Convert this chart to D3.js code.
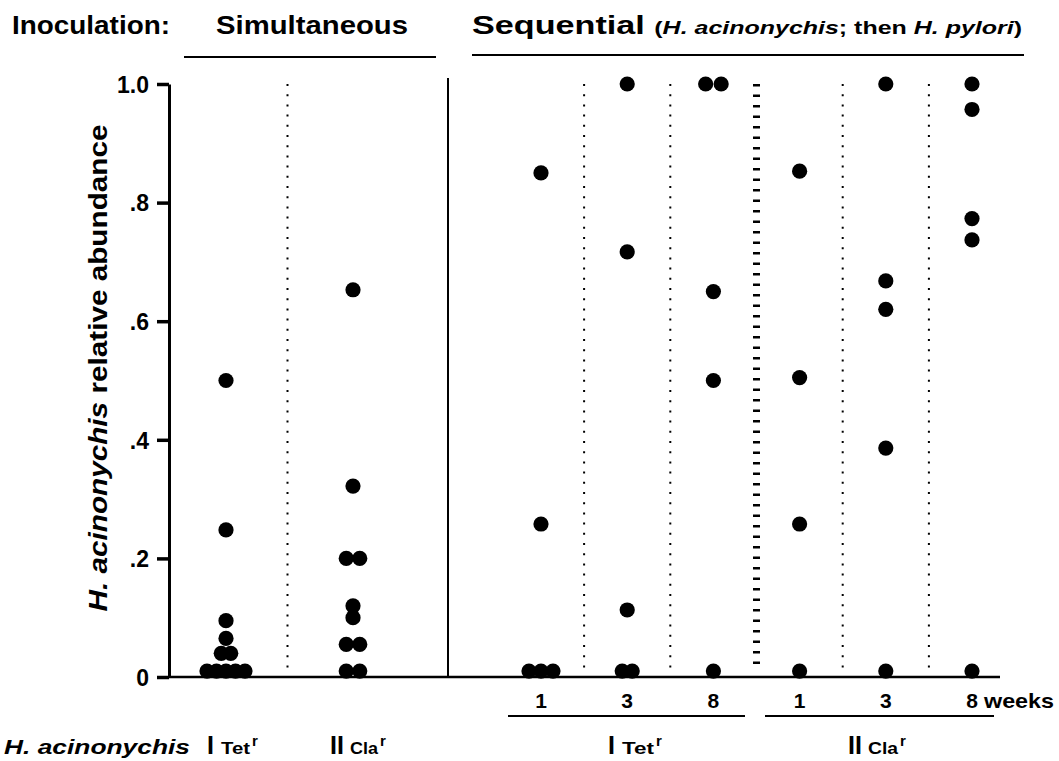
<!DOCTYPE html>
<html>
<head>
<meta charset="utf-8">
<script src="https://cdn.jsdelivr.net/npm/d3@7"></script>
<style>
  body { margin: 0; background: #fff; }
  svg text { font-family: "Liberation Sans", Arial, sans-serif; font-weight: bold; fill: #000; }
</style>
</head>
<body>
<div id="chart"></div>
<script>
// values (relative abundance of H. acinonychis)
var simGroups = ["I", "II"];
var simI  = [0.5, 0.248, 0.095, 0.065, 0.04, 0.04, 0.01, 0.01, 0.01, 0.01, 0.01];
var simII = [0.653, 0.322, 0.2, 0.2, 0.12, 0.1, 0.055, 0.055, 0.01, 0.01];

var seqGroups  = ["Tet-1", "Tet-3", "Tet-8", "Cla-1", "Cla-3", "Cla-8"];
var weekLabels = ["1", "3", "8", "1", "3", "8"];
var tet1 = [0.85, 0.258, 0.01, 0.01, 0.01];
var tet3 = [1.0, 0.717, 0.113, 0.01, 0.01];
var tet8 = [1.0, 1.0, 0.65, 0.5, 0.01];
var cla1 = [0.853, 0.505, 0.258, 0.01];
var cla3 = [1.0, 0.668, 0.62, 0.386, 0.01];
var cla8 = [1.0, 0.957, 0.773, 0.737, 0.01];

var yTicks = [0, 0.2, 0.4, 0.6, 0.8, 1.0];
var yTickLabels = ["0", ".2", ".4", ".6", ".8", "1.0"];

var width = 1059, height = 761;

var svg = d3.select("#chart").append("svg")
    .attr("width", width)
    .attr("height", height);

var y = d3.scaleLinear().domain([0, 1]).range([677, 84]);
var xSim = d3.scalePoint().domain(simGroups).range([226, 353]);
var xSeq = d3.scalePoint().domain(seqGroups).range([541, 972]);

// stretch a text to the width seen in the scan
function fit(sel, len) {
  sel.attr("textLength", len).attr("lengthAdjust", "spacingAndGlyphs");
  return sel;
}

// y axis
var yAxis = svg.append("g")
    .attr("transform", "translate(169,0)")
    .call(d3.axisLeft(y).tickValues(yTicks)
      .tickFormat(function(d, i){ return yTickLabels[i]; })
      .tickSize(12).tickSizeOuter(0).tickPadding(8));
yAxis.select(".domain").attr("stroke-width", 3);
yAxis.selectAll(".tick line").attr("stroke-width", 3.5);
yAxis.selectAll(".tick text").style("font-size", "23px").attr("dy", "0.36em");

// baseline
svg.append("line")
    .attr("x1", 169).attr("x2", 1000)
    .attr("y1", y(0)).attr("y2", y(0))
    .attr("stroke", "#000").attr("stroke-width", 2.5);

// separators
var simMid = (xSim("I") + xSim("II")) / 2 - 2;
svg.append("line")
    .attr("x1", simMid).attr("x2", simMid)
    .attr("y1", y(1)).attr("y2", y(0) - 4)
    .attr("stroke", "#000").attr("stroke-width", 2)
    .attr("stroke-dasharray", "2,8.2");

svg.append("line")
    .attr("x1", 448).attr("x2", 448)
    .attr("y1", 78).attr("y2", y(0))
    .attr("stroke", "#000").attr("stroke-width", 2);

for (var i = 0; i < seqGroups.length - 1; i++) {
  var mx = (xSeq(seqGroups[i]) + xSeq(seqGroups[i+1])) / 2;
  var heavy = (i == 2);
  svg.append("line")
    .attr("x1", mx).attr("x2", mx)
    .attr("y1", y(1)).attr("y2", y(0) - 8)
    .attr("stroke", "#000")
    .attr("stroke-width", heavy ? 7 : 2)
    .attr("stroke-dasharray", heavy ? "2.5,8" : "2,8.2");
}

// dots: equal values sit side by side
function drawDots(values, cx, spacing) {
  var counts = {};
  values.forEach(function(v){ counts[v] = (counts[v] || 0) + 1; });
  var seen = {};
  var pts = values.map(function(v){
    seen[v] = (seen[v] || 0);
    var k = seen[v]++;
    return { v: v, off: (k - (counts[v] - 1) / 2) * spacing };
  });
  svg.append("g").selectAll("circle")
    .data(pts)
    .join("circle")
      .attr("cx", function(d){ return cx + d.off; })
      .attr("cy", function(d){ return y(d.v); })
      .attr("r", 7.6)
      .attr("fill", "#000");
}
drawDots(simI, xSim("I"), 9.5);
drawDots(simII, xSim("II"), 13.5);
var seqSpacing = [12, 10, 15.5, 12, 12, 12];
[tet1, tet3, tet8, cla1, cla3, cla8].forEach(function(vals, i){
  drawDots(vals, xSeq(seqGroups[i]), seqSpacing[i]);
});

// week labels
svg.append("g").selectAll("text")
  .data(seqGroups)
  .join("text")
    .attr("x", function(d){ return xSeq(d); })
    .attr("y", 708)
    .attr("text-anchor", "middle")
    .style("font-size", "21px")
    .text(function(d, i){ return weekLabels[i]; });
fit(svg.append("text")
    .attr("x", xSeq("Cla-8") + 12).attr("y", 708)
    .style("font-size", "21px")
    .text("weeks"), 70);

// group underlines
svg.append("line").attr("x1", 508).attr("x2", 745).attr("y1", 716).attr("y2", 716)
    .attr("stroke", "#000").attr("stroke-width", 2);
svg.append("line").attr("x1", 765).attr("x2", 994).attr("y1", 716).attr("y2", 716)
    .attr("stroke", "#000").attr("stroke-width", 2);

// header
fit(svg.append("text").attr("x", 12).attr("y", 34).style("font-size", "26px").text("Inoculation:"), 158);
fit(svg.append("text").attr("x", 216).attr("y", 34).style("font-size", "26px").text("Simultaneous"), 192);
svg.append("line").attr("x1", 184).attr("x2", 436).attr("y1", 57).attr("y2", 57)
    .attr("stroke", "#000").attr("stroke-width", 2);

var seqT = svg.append("text").attr("x", 472).attr("y", 34).style("font-size", "26px");
seqT.append("tspan").text("Sequential ");
seqT.append("tspan").style("font-size", "19px").text("(");
seqT.append("tspan").style("font-size", "19px").style("font-style", "italic").text("H. acinonychis");
seqT.append("tspan").style("font-size", "19px").text("; then ");
seqT.append("tspan").style("font-size", "19px").style("font-style", "italic").text("H. pylori");
seqT.append("tspan").style("font-size", "19px").text(")");
fit(seqT, 550);
svg.append("line").attr("x1", 472).attr("x2", 1024).attr("y1", 55).attr("y2", 55)
    .attr("stroke", "#000").attr("stroke-width", 2);

// y title
var yt = svg.append("text")
    .attr("transform", "translate(107,368) rotate(-90)")
    .attr("text-anchor", "middle")
    .style("font-size", "26px");
yt.append("tspan").style("font-style", "italic").text("H. acinonychis");
yt.append("tspan").text(" relative abundance");
fit(yt, 487);

// strain labels at the bottom
fit(svg.append("text").attr("x", 4).attr("y", 754).style("font-size", "20px")
    .style("font-style", "italic").text("H. acinonychis"), 186);

function strainLabel(x, numeral, name, nameLen) {
  var t = svg.append("text").attr("x", x).attr("y", 754);
  t.append("tspan").style("font-size", "25px").text(numeral);
  var nx = x + (numeral.length == 1 ? 14 : 20);
  fit(svg.append("text").attr("x", nx).attr("y", 754).style("font-size", "17px").text(name), nameLen);
  svg.append("text").attr("x", nx + nameLen + 2).attr("y", 746).style("font-size", "15px").text("r");
}
strainLabel(207, "I", "Tet", 29);
strainLabel(330, "II", "Cla", 28);
strainLabel(608, "I", "Tet", 32);
strainLabel(848, "II", "Cla", 30);
</script>
</body>
</html>
